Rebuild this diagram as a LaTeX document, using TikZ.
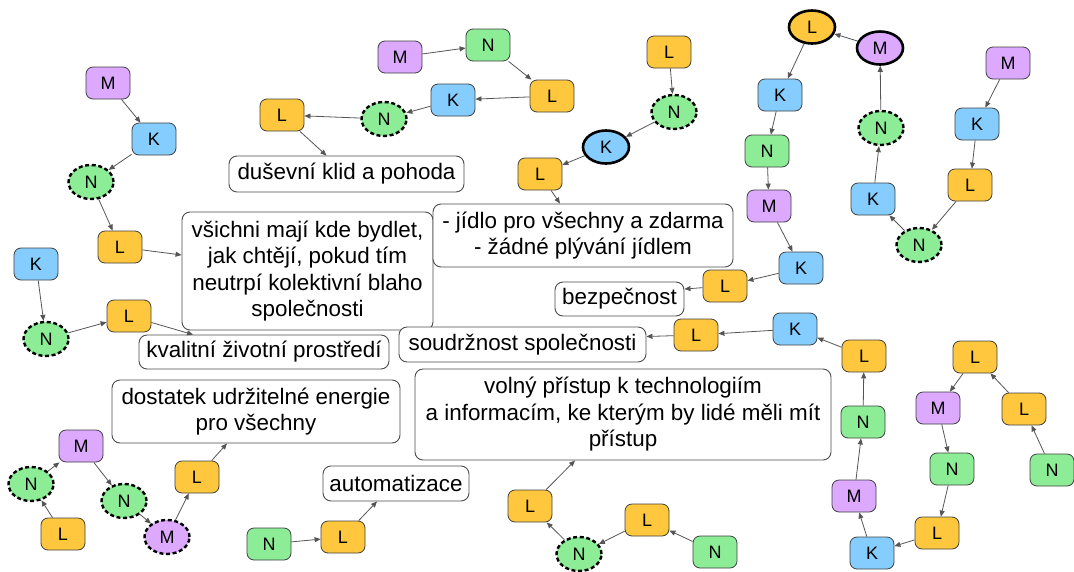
\documentclass[tikz,border=0pt]{standalone}
\usepackage{fontspec}
\setmainfont{Liberation Sans}
\usetikzlibrary{arrows.meta,shapes.geometric}
\definecolor{cM}{HTML}{DCA9FF}
\definecolor{cK}{HTML}{85CDFF}
\definecolor{cN}{HTML}{8DED97}
\definecolor{cL}{HTML}{FFC73D}
\definecolor{edgegray}{HTML}{555555}
\begin{document}
\begin{tikzpicture}[x=1pt,y=-1pt,
  base/.style={draw=black!75, line width=0.8pt, text=black,
    font=\fontsize{18}{18}\selectfont, inner sep=0pt},
  rbox/.style={base, rectangle, rounded corners=7pt,
    minimum width=44pt, minimum height=32pt},
  dotted ring/.style={base, ellipse, draw=black, line width=2.4pt,
    dash pattern=on 4pt off 2.6pt, minimum width=45pt, minimum height=34pt},
  bold ring/.style={base, ellipse, draw=black, line width=2.6pt,
    minimum width=46pt, minimum height=33pt},
  fm/.style={fill=cM}, fk/.style={fill=cK}, fn/.style={fill=cN}, fl/.style={fill=cL},
  txt/.style={draw=black!70, line width=0.9pt, fill=white, rounded corners=8pt,
    align=center, font=\fontsize{22.4}{26.5}\selectfont, inner sep=2pt},
  conn/.style={draw=edgegray, line width=0.8pt, -{Triangle[length=6pt,width=5pt]}}
]
\useasboundingbox (0,0) rectangle (1074,571);

% --- text boxes ---
\node[txt, minimum width=251pt, minimum height=118pt] (vsichni) at (307.5,271)
  {všichni mají kde bydlet,\\jak chtějí, pokud tím\\neutrpí kolektivní blaho\\společnosti};
\node[txt, minimum width=235pt, minimum height=36pt] (dusevni) at (346.5,174) {duševní klid a pohoda};
\node[txt, minimum width=300pt, minimum height=63pt] (jidlo) at (583,235.5)
  {- jídlo pro všechny a zdarma\\- žádné plývání jídlem};
\node[txt, minimum width=129pt, minimum height=34pt] (bezp) at (619.5,299) {bezpečnost};
\node[txt, minimum width=250pt, minimum height=34pt] (kvalit) at (264,352) {kvalitní životní prostředí};
\node[txt, minimum width=247pt, minimum height=35pt] (soudr) at (522.5,344.5) {soudržnost společnosti};
\node[txt, minimum width=288pt, minimum height=63pt] (energie) at (256,411.5)
  {dostatek udržitelné energie\\pro všechny};
\node[txt, minimum width=416pt, minimum height=91pt] (volny) at (623,414.5)
  {volný přístup k technologiím\\a informacím, ke kterým by lidé měli mít\\přístup};
\node[txt, minimum width=146pt, minimum height=35pt] (autom) at (396,483.5) {automatizace};

% --- chain toward the housing box ---
\node[rbox, fm] (a1) at (108,83) {M};
\node[rbox, fk] (a2) at (154,139) {K};
\node[dotted ring, fn] (a3) at (91,182) {N};
\node[rbox, fl] (a4) at (120,247) {L};
\draw[conn] (a1) -- (a2);
\draw[conn] (a2) -- (a3);
\draw[conn] (a3) -- (a4);
\draw[conn] (a4) -- ([yshift=16pt]vsichni.west);

% --- chain toward the environment box ---
\node[rbox, fk] (b1) at (36,264) {K};
\node[dotted ring, fn] (b2) at (46,339) {N};
\node[rbox, fl] (b3) at (129,316) {L};
\draw[conn] (b1) -- (b2);
\draw[conn] (b2) -- (b3);
\draw[conn] (b3) -- ([xshift=-71pt]kvalit.north);

% --- chain toward peace of mind ---
\node[rbox, fm] (c1) at (400,57) {M};
\node[rbox, fn] (c2) at (488,45) {N};
\node[rbox, fl] (c3) at (552,96) {L};
\node[rbox, fk] (c4) at (453,100) {K};
\node[dotted ring, fn] (c5) at (384,119) {N};
\node[rbox, fl] (c6) at (282,115) {L};
\draw[conn] (c1) -- (c2);
\draw[conn] (c2) -- (c3);
\draw[conn] (c3) -- (c4);
\draw[conn] (c4) -- (c5);
\draw[conn] (c5) -- (c6);
\draw[conn] (c6) -- ([xshift=-20pt]dusevni.north);

% --- chain toward food ---
\node[rbox, fl] (d1) at (669,52) {L};
\node[dotted ring, fn] (d2) at (674,112) {N};
\node[bold ring, fk] (d3) at (606,147) {K};
\node[rbox, fl] (d4) at (540,174) {L};
\draw[conn] (d1) -- (d2);
\draw[conn] (d2) -- (d3);
\draw[conn] (d3) -- (d4);
\draw[conn] (d4) -- ([xshift=-23pt]jidlo.north);

% --- loop toward safety ---
\node[bold ring, fm] (e1) at (880,48) {M};
\node[bold ring, fl] (e2) at (812,27) {L};
\node[rbox, fk] (e3) at (780,95) {K};
\node[rbox, fn] (e4) at (767,151) {N};
\node[rbox, fm] (e5) at (769,206) {M};
\node[rbox, fk] (e6) at (801,268) {K};
\node[rbox, fl] (e7) at (725,286) {L};
\node[dotted ring, fn] (e8) at (881,128) {N};
\node[rbox, fk] (e9) at (873,199) {K};
\node[dotted ring, fn] (e10) at (919,245) {N};
\node[rbox, fl] (e11) at (970,185) {L};
\node[rbox, fk] (e12) at (977,124) {K};
\node[rbox, fm] (e13) at (1008,63) {M};
\draw[conn] (e13) -- (e12);
\draw[conn] (e12) -- (e11);
\draw[conn] (e11) -- (e10);
\draw[conn] (e10) -- (e9);
\draw[conn] (e9) -- (e8);
\draw[conn] (e8) -- (e1);
\draw[conn] (e1) -- (e2);
\draw[conn] (e2) -- (e3);
\draw[conn] (e3) -- (e4);
\draw[conn] (e4) -- (e5);
\draw[conn] (e5) -- (e6);
\draw[conn] (e6) -- (e7);
\draw[conn] (e7) -- ([yshift=10pt]bezp.east);

% --- long chain toward cohesion ---
\node[rbox, fk] (f1) at (795,329) {K};
\node[rbox, fl] (f2) at (696,335) {L};
\node[rbox, fl] (f3) at (864,356) {L};
\node[rbox, fn] (f4) at (863,422) {N};
\node[rbox, fm] (f5) at (854,496) {M};
\node[rbox, fk] (f6) at (872,553) {K};
\node[rbox, fl] (f7) at (937,533) {L};
\node[rbox, fn] (f8) at (952,469) {N};
\node[rbox, fm] (f9) at (938,408) {M};
\node[rbox, fl] (f10) at (975,357) {L};
\node[rbox, fl] (f11) at (1024,409) {L};
\node[rbox, fn] (f12) at (1052,470) {N};
\draw[conn] (f12) -- (f11);
\draw[conn] (f11) -- (f10);
\draw[conn] (f10) -- (f9);
\draw[conn] (f9) -- (f8);
\draw[conn] (f8) -- (f7);
\draw[conn] (f7) -- (f6);
\draw[conn] (f6) -- (f5);
\draw[conn] (f5) -- (f4);
\draw[conn] (f4) -- (f3);
\draw[conn] (f3) -- (f1);
\draw[conn] (f1) -- (f2);
\draw[conn] (f2) -- ([yshift=8pt]soudr.east);

% --- chain toward energy ---
\node[rbox, fl] (g1) at (63,534) {L};
\node[dotted ring, fn] (g2) at (31,484) {N};
\node[rbox, fm] (g3) at (81,446) {M};
\node[dotted ring, fn] (g4) at (124,501) {N};
\node[dotted ring, fm] (g5) at (167,537) {M};
\node[rbox, fl] (g6) at (197,477) {L};
\draw[conn] (g1) -- (g2);
\draw[conn] (g2) -- (g3);
\draw[conn] (g3) -- (g4);
\draw[conn] (g4) -- (g5);
\draw[conn] (g5) -- (g6);
\draw[conn] (g6) -- ([xshift=-29pt]energie.south);

% --- chain toward automation ---
\node[rbox, fn] (h1) at (269,544) {N};
\node[rbox, fl] (h2) at (343,537) {L};
\draw[conn] (h1) -- (h2);
\draw[conn] (h2) -- ([xshift=-19pt]autom.south);

% --- chain toward open access ---
\node[rbox, fn] (i1) at (715,552) {N};
\node[rbox, fl] (i2) at (647,520) {L};
\node[dotted ring, fn] (i3) at (579,554) {N};
\node[rbox, fl] (i4) at (530,506) {L};
\draw[conn] (i1) -- (i2);
\draw[conn] (i2) -- (i3);
\draw[conn] (i3) -- (i4);
\draw[conn] (i4) -- ([xshift=-48pt]volny.south);
\end{tikzpicture}
\end{document}
